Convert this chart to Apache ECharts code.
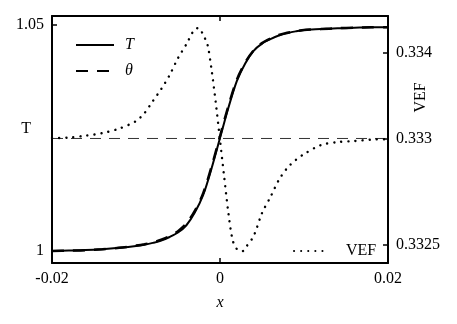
<!DOCTYPE html>
<html>
<head>
<meta charset="utf-8">
<script src="https://cdn.jsdelivr.net/npm/echarts@6/dist/echarts.min.js"></script>
<style>
  html, body { margin: 0; padding: 0; background: #fff; }
  #main { width: 457px; height: 324px; }
</style>
</head>
<body>
<div id="main"></div>
<script>
// x positions for the T / theta profiles
var xs = [-0.02, -0.018, -0.016, -0.014, -0.012, -0.010, -0.009, -0.008, -0.007, -0.006,
          -0.005, -0.004, -0.003, -0.002, -0.001, 0, 0.001, 0.002, 0.003, 0.004,
          0.005, 0.006, 0.007, 0.008, 0.009, 0.010, 0.012, 0.014, 0.016, 0.018, 0.020];
var tValues = [1.0000, 1.0001, 1.0002, 1.0004, 1.0007, 1.0011, 1.0014, 1.0018, 1.0023, 1.0031,
               1.0041, 1.0057, 1.0085, 1.0124, 1.0183, 1.0250, 1.0317, 1.0376, 1.0415, 1.0443,
               1.0459, 1.0469, 1.0477, 1.0482, 1.0486, 1.0489, 1.0491, 1.0493, 1.0494, 1.0495, 1.0495];
var thetaValues = [1.0000, 1.0001, 1.0002, 1.0004, 1.0007, 1.0012, 1.0015, 1.0019, 1.0025, 1.0033,
                   1.0044, 1.0061, 1.0089, 1.0128, 1.0187, 1.0254, 1.0321, 1.0379, 1.0417, 1.0444,
                   1.0460, 1.0470, 1.0478, 1.0483, 1.0486, 1.0489, 1.0491, 1.0493, 1.0494, 1.0495, 1.0495];

// VEF profile (right axis)
var vefX = [-0.02, -0.018, -0.016, -0.014, -0.012, -0.010, -0.009, -0.008, -0.007, -0.006,
            -0.005, -0.004, -0.003, -0.0025, -0.002, -0.0015, -0.001, -0.0005, 0, 0.0005,
            0.001, 0.0015, 0.002, 0.0027, 0.003, 0.004, 0.005, 0.006, 0.007, 0.008,
            0.009, 0.010, 0.012, 0.014, 0.016, 0.018, 0.020];
var vefValues = [0.333336, 0.333340, 0.333355, 0.333375, 0.333410, 0.333469, 0.333531, 0.333625, 0.333719, 0.333828,
                 0.333961, 0.334070, 0.334188, 0.334195, 0.334140, 0.334070, 0.333867, 0.333610, 0.333320, 0.333031,
                 0.332750, 0.332540, 0.332470, 0.332453, 0.332477, 0.332570, 0.332750, 0.332875, 0.333008, 0.333102,
                 0.333164, 0.333211, 0.333281, 0.333305, 0.333313, 0.333324, 0.333328];
var vefRef = 0.333333;

var tTicks = [1, 1.05];
var tTickLabels = ['1', '1.05'];
var vefTicks = [0.3325, 1 / 3, 0.334];
var vefTickLabels = ['0.3325', '0.333', '0.334'];
var xTickLabels = ['-0.02', '0', '0.02'];

function pairs(a, b) {
  return a.map(function (v, i) { return [v, b[i]]; });
}

var FONT = 'Liberation Serif';
function tick(values) {
  var t = { show: true, inside: true, length: 5, lineStyle: { color: '#000', width: 1.5 } };
  if (values) t.customValues = values;
  return t;
}
var axisLine = { show: true, onZero: false, lineStyle: { color: '#000', width: 2 } };
var chart = echarts.init(document.getElementById('main'));
var option = {
  animation: false,
  backgroundColor: '#fff',
  color: ['#000'],
  grid: { left: 52, right: 69, top: 16, bottom: 61, outerBoundsMode: 'none' },
  legend: [
    {
      orient: 'vertical', left: 70, top: 32,
      itemWidth: 38, itemHeight: 14, itemGap: 10,
      itemStyle: { opacity: 0 },
      data: ['T', 'θ'],
      textStyle: { fontFamily: FONT, fontSize: 16, fontStyle: 'italic', color: '#000', padding: [0, 0, 0, 6] }
    },
    {
      left: 288, top: 238,
      itemWidth: 34, itemHeight: 14,
      itemStyle: { opacity: 0 },
      data: ['VEF'],
      textStyle: { fontFamily: FONT, fontSize: 16, color: '#000', padding: [0, 0, 0, 13] }
    }
  ],
  xAxis: [
    {
      type: 'value', min: -0.02, max: 0.02, interval: 0.02,
      name: 'x', nameLocation: 'middle', nameGap: 32, nameMoveOverlap: false,
      nameTextStyle: { fontFamily: FONT, fontSize: 16, fontStyle: 'italic', color: '#000' },
      axisLine: axisLine,
      axisTick: tick(),
      axisLabel: {
        fontFamily: FONT, fontSize: 16, color: '#000', margin: 8,
        formatter: function (v) { return xTickLabels[Math.round((v + 0.02) / 0.02)]; }
      },
      splitLine: { show: false }
    },
    {
      type: 'value', position: 'top', min: -0.02, max: 0.02, interval: 0.02,
      axisLine: axisLine,
      axisTick: tick(),
      axisLabel: { show: false },
      splitLine: { show: false }
    }
  ],
  yAxis: [
    {
      type: 'value', min: 0.99735, max: 1.052,
      name: 'T', nameLocation: 'middle', nameGap: 21, nameRotate: 0, nameMoveOverlap: false,
      nameTextStyle: { fontFamily: FONT, fontSize: 16, color: '#000', verticalAlign: 'bottom', padding: [0, 0, 3, 0] },
      axisLine: axisLine,
      axisTick: tick(tTicks),
      axisLabel: {
        fontFamily: FONT, fontSize: 16, color: '#000', margin: 8,
        customValues: tTicks,
        formatter: function (v) {
          var i = tTicks.findIndex(function (t) { return Math.abs(t - v) < 1e-6; });
          return i >= 0 ? tTickLabels[i] : '';
        }
      },
      splitLine: { show: false }
    },
    {
      type: 'value', position: 'right', min: 0.33236, max: 0.33429,
      name: 'VEF', nameLocation: 'middle', nameGap: 25, nameRotate: 90, nameMoveOverlap: false,
      nameTextStyle: { fontFamily: FONT, fontSize: 16, color: '#000', padding: [0, 0, 0, 84] },
      axisLine: axisLine,
      axisTick: tick(vefTicks),
      axisLabel: {
        fontFamily: FONT, fontSize: 16, color: '#000', margin: 8,
        customValues: vefTicks,
        formatter: function (v) {
          var i = vefTicks.findIndex(function (t) { return Math.abs(t - v) < 1e-7; });
          return i >= 0 ? vefTickLabels[i] : '';
        }
      },
      splitLine: { show: false }
    }
  ],
  series: [
    {
      name: 'ref', type: 'line', yAxisIndex: 1, symbol: 'none', silent: true,
      data: [[-0.02, vefRef], [0.02, vefRef]],
      lineStyle: { color: '#333', width: 1, type: [11, 8] }
    },
    {
      name: 'VEF', type: 'line', yAxisIndex: 1, symbol: 'none', smooth: 0.3,
      data: pairs(vefX, vefValues),
      lineStyle: { color: '#000', width: 2.4, type: [0.1, 7], cap: 'round' }
    },
    {
      name: 'θ', type: 'line', symbol: 'none', smooth: 0.3,
      data: pairs(xs, thetaValues),
      lineStyle: { color: '#000', width: 2.5, type: [12, 9] }
    },
    {
      name: 'T', type: 'line', symbol: 'none', smooth: 0.3,
      data: pairs(xs, tValues),
      lineStyle: { color: '#000', width: 2 }
    }
  ]
};
chart.setOption(option);
</script>
</body>
</html>
